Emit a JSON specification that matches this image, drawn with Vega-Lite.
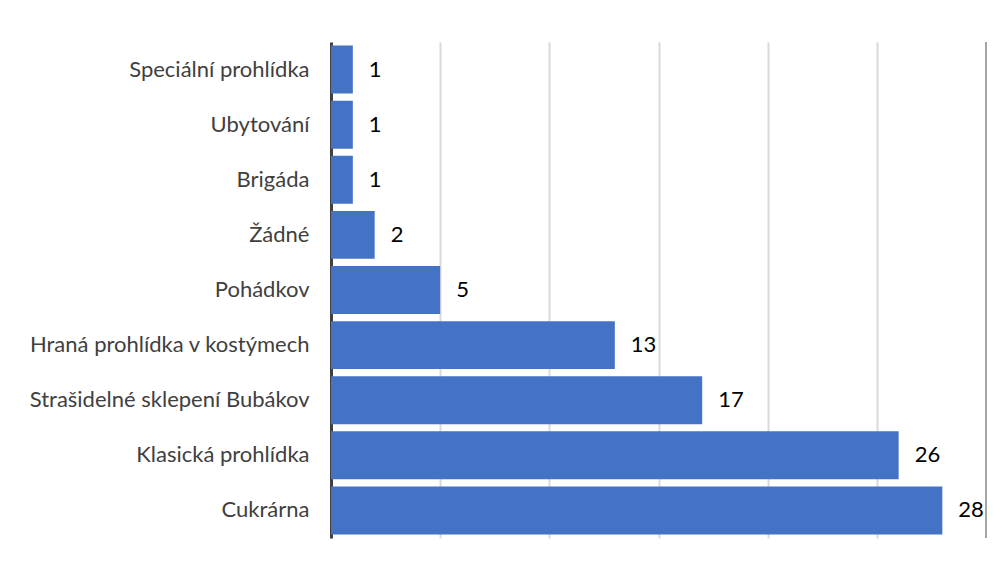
{
  "$schema": "https://vega.github.io/schema/vega-lite/v6.json",
  "width": 655,
  "height": 496,
  "autosize": "none",
  "padding": {"left": 331, "top": 42, "right": 19, "bottom": 23},
  "background": "white",
  "config": {"view": {"stroke": null}, "font": "Lato, sans-serif"},
  "data": {"values": [
    {"category": "Speciální prohlídka", "value": 1},
    {"category": "Ubytování", "value": 1},
    {"category": "Brigáda", "value": 1},
    {"category": "Žádné", "value": 2},
    {"category": "Pohádkov", "value": 5},
    {"category": "Hraná prohlídka v kostýmech", "value": 13},
    {"category": "Strašidelné sklepení Bubákov", "value": 17},
    {"category": "Klasická prohlídka", "value": 26},
    {"category": "Cukrárna", "value": 28}
  ]},
  "encoding": {
    "y": {
      "field": "category", "type": "nominal", "sort": null, "title": null,
      "scale": {"paddingInner": 0.13, "paddingOuter": 0.065},
      "axis": {"domainColor": "#404040", "domainWidth": 3, "ticks": false, "labelFontSize": 22, "labelColor": "#404040", "labelPadding": 22, "labelLimit": 400}
    }
  },
  "layer": [
    {
      "mark": {"type": "bar", "color": "#4472C4"},
      "encoding": {
        "x": {
          "field": "value", "type": "quantitative", "title": null,
          "scale": {"domain": [0, 30], "nice": false},
          "axis": {"values": [0, 5, 10, 15, 20, 25], "grid": true, "gridColor": "#d9d9d9", "gridWidth": 2, "labels": false, "ticks": false, "domain": false}
        }
      }
    },
    {
      "mark": {"type": "text", "align": "left", "baseline": "middle", "dx": 16, "fontSize": 22, "color": "#000000"},
      "encoding": {
        "x": {"field": "value", "type": "quantitative"},
        "text": {"field": "value", "type": "quantitative"}
      }
    },
    {
      "data": {"values": [{"x": 30}]},
      "mark": {"type": "rule", "color": "#a6a6a6", "strokeWidth": 2},
      "encoding": {"x": {"field": "x", "type": "quantitative"}, "y": {"value": 0}, "y2": {"value": 496}}
    }
  ]
}
